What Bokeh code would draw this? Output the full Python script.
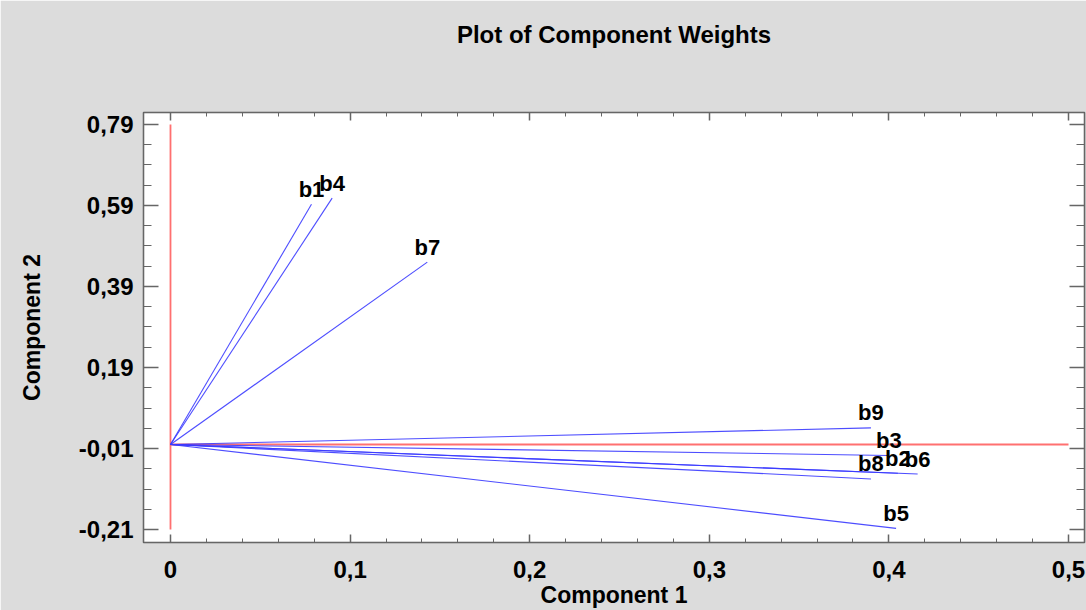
import numpy as np
from bokeh.plotting import figure
from bokeh.models import (ColumnDataSource, FixedTicker, LinearAxis, Range1d,
                          LabelSet)
from bokeh.core.properties import value
from bokeh.embed import file_html
from bokeh.resources import INLINE

# ---- data ----
names = ["b1", "b2", "b3", "b4", "b5", "b6", "b7", "b8", "b9"]
comp1 = [0.0785, 0.405, 0.400, 0.090, 0.404, 0.416, 0.143, 0.390, 0.390]
comp2 = [0.593, -0.071, -0.027, 0.608, -0.207, -0.073, 0.450, -0.085, 0.041]

x_ticks = [0.0, 0.1, 0.2, 0.3, 0.4, 0.5]
x_tick_labels = ["0", "0,1", "0,2", "0,3", "0,4", "0,5"]
y_ticks = [-0.21, -0.01, 0.19, 0.39, 0.59, 0.79]
y_tick_labels = ["-0,21", "-0,01", "0,19", "0,39", "0,59", "0,79"]
title_text = "Plot of Component Weights"

FONT = "Liberation Sans"
BG = "#dcdcdc"
AXC = "#666666"

W, H = 1086, 610
BL, BT, BB, BR = 143, 112, 65, 2

p = figure(width=W, height=H, output_backend="svg", toolbar_location=None,
           x_range=Range1d(-0.01503, 0.5089), y_range=Range1d(-0.2419, 0.8194),
           min_border_left=BL, min_border_top=BT, min_border_bottom=BB,
           min_border_right=BR, background_fill_color="white",
           border_fill_color=BG, outline_line_color="#555555",
           outline_line_width=1.5)
p.grid.visible = False

x_minor = list(np.round(np.arange(0.0, 0.5001, 0.02), 4))
y_minor = list(np.round(np.arange(-0.21, 0.7901, 0.05), 4))


def style(ax, labels, tick_in, minor_in, show):
    ax.axis_line_color = AXC
    ax.major_tick_line_color = AXC
    ax.minor_tick_line_color = AXC
    ax.major_tick_out = 0
    ax.minor_tick_out = 0
    ax.major_tick_in = tick_in
    ax.minor_tick_in = minor_in
    ax.major_tick_line_width = 1.5
    ax.minor_tick_line_width = 1
    ax.major_label_text_font = FONT
    ax.major_label_text_font_style = "bold"
    ax.major_label_text_color = "black"
    ax.axis_label_text_font = FONT
    ax.axis_label_text_font_style = "bold"
    ax.axis_label_text_color = "black"
    ax.major_label_overrides = labels
    if show:
        ax.major_label_text_font_size = "24px"
        ax.axis_label_text_font_size = "23px"
    else:
        ax.major_label_text_font_size = "8px"
        ax.major_label_standoff = 0


xa = p.xaxis[0]
xa.ticker = FixedTicker(ticks=x_ticks, minor_ticks=x_minor)
xa.axis_label = "Component 1"
style(xa, {t: l for t, l in zip(x_ticks, x_tick_labels)}, 8, 4, True)
xa.major_label_standoff = 18
xa.axis_label_standoff = 1

ya = p.yaxis[0]
ya.ticker = FixedTicker(ticks=y_ticks, minor_ticks=y_minor)
ya.axis_label = "Component 2"
style(ya, {t: l for t, l in zip(y_ticks, y_tick_labels)}, 15, 8, True)
ya.major_label_standoff = 10
ya.axis_label_standoff = 31

# top axis: ticks only, and it carries the chart title as its label
top = LinearAxis(ticker=FixedTicker(ticks=x_ticks, minor_ticks=x_minor))
style(top, {t: "" for t in x_ticks}, 8, 4, False)
top.axis_label = title_text
top.axis_label_text_font_size = "24px"
top.axis_label_standoff = 65
p.add_layout(top, "above")

right = LinearAxis(ticker=FixedTicker(ticks=y_ticks, minor_ticks=y_minor))
style(right, {t: "" for t in y_ticks}, 15, 8, False)
p.add_layout(right, "right")

# reference lines (at the axis origin, spanning the tick range)
p.segment(x0=[0.0], y0=[y_ticks[0]], x1=[0.0], y1=[y_ticks[-1]],
          line_color="#ff7070", line_width=1.8)
p.segment(x0=[x_ticks[0]], y0=[0.0], x1=[x_ticks[-1]], y1=[0.0],
          line_color="#ff7070", line_width=1.8)

src = ColumnDataSource(dict(x0=[0.0] * len(names), y0=[0.0] * len(names),
                            x=comp1, y=comp2, name=names))
p.segment(x0="x0", y0="y0", x1="x", y1="y", source=src,
          line_color="#3a3aff", line_width=1.1, line_alpha=0.9)

labels = LabelSet(x="x", y="y", text="name", source=src, y_offset=15,
                  text_align="center", text_baseline="middle",
                  text_font=value(FONT), text_font_style="bold",
                  text_font_size="22px", text_color="black")
p.add_layout(labels)

open("out.html", "w").write(file_html(p, INLINE))
